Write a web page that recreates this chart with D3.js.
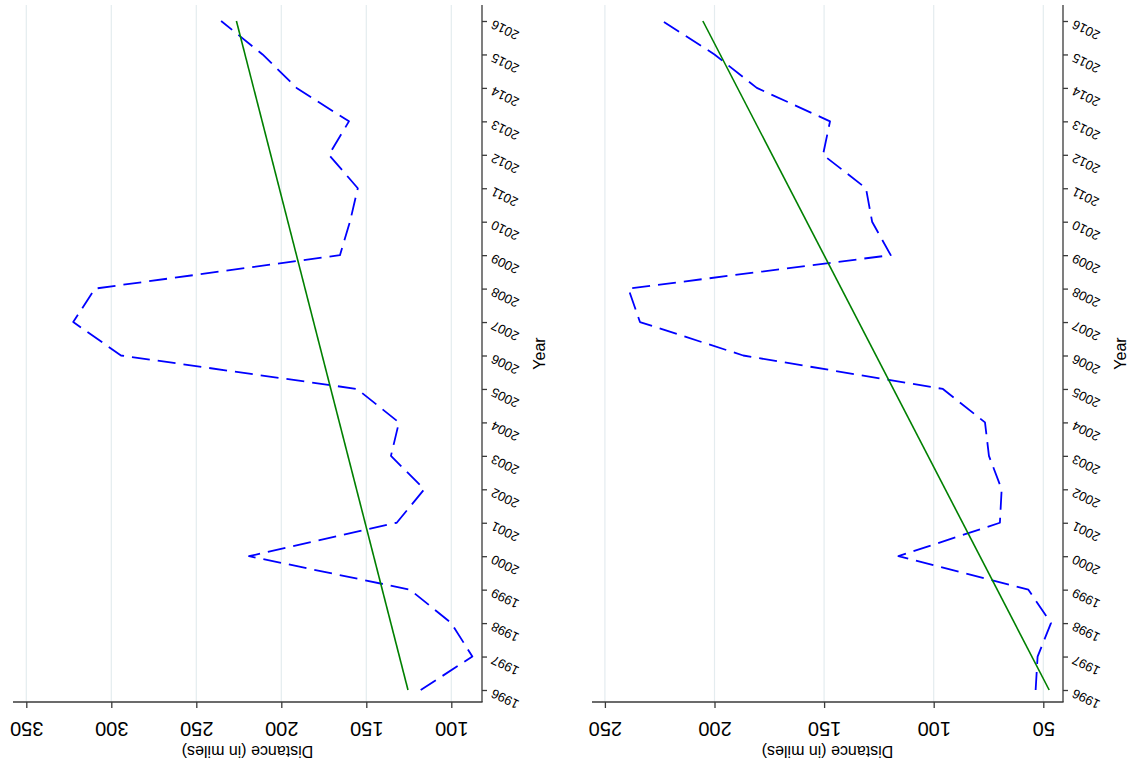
<!DOCTYPE html>
<html>
<head>
<meta charset="utf-8">
<script src="https://cdn.jsdelivr.net/npm/d3@7"></script>
<style>
  html, body { margin: 0; padding: 0; background: #fff; }
  svg { display: block; font-family: "Liberation Sans", Arial, Helvetica, sans-serif; }
</style>
</head>
<body>
<svg id="chart" width="1133" height="764"></svg>
<script>
// Yearly average distance (in miles), two series
const years = [1996, 1997, 1998, 1999, 2000, 2001, 2002, 2003, 2004, 2005, 2006,
               2007, 2008, 2009, 2010, 2011, 2012, 2013, 2014, 2015, 2016];
const distanceA = [118, 87.6, 100, 124.3, 219, 132.1, 115.9, 135.5, 130.8, 155.5, 294.3,
                   322.4, 309.6, 165.5, 159.6, 155, 172, 160.2, 191, 211, 235.4];
const distanceB = [53.5, 52.6, 46.5, 56.8, 116.1, 69.8, 69, 74.8, 76.6, 95.8, 186.9,
                   234, 239.3, 119.6, 128.1, 130.9, 150.5, 147.3, 180.7, 200, 223.8];
const distanceTicksA = [100, 150, 200, 250, 300, 350];
const distanceTicksB = [50, 100, 150, 200, 250];
const yearTicks = years;
const distanceTitle = "Distance (in miles)";
const yearTitle = "Year";

const svg = d3.select("#chart");

// Page is laid out sideways: years run bottom-to-top along the right edge,
// distance runs right-to-left along the bottom edge.
const plotTop = 5, plotBottom = 702;
const yScale = d3.scaleLinear().domain([1996, 2016]).range([690, 21]);

const panels = [
  { values: distanceA, ticks: distanceTicksA, domain: [100, 350], range: [451.3, 26.3], left: 13, right: 482 },
  { values: distanceB, ticks: distanceTicksB, domain: [50, 250], range: [1043.3, 604.9], left: 592, right: 1063 }
];

// ordinary least-squares fit of distance on year
function linearFit(xs, ys) {
  const mx = d3.mean(xs), my = d3.mean(ys);
  const sxy = d3.sum(xs, (x, i) => (x - mx) * (ys[i] - my));
  const sxx = d3.sum(xs, x => (x - mx) * (x - mx));
  const b = sxy / sxx;
  return x => my + b * (x - mx);
}

const axisColor = "#3a3a3a";

panels.forEach(p => {
  const x = d3.scaleLinear().domain(p.domain).range(p.range);
  const g = svg.append("g");
  const pts = years.map((yr, i) => ({ year: yr, v: p.values[i] }));

  // grid
  g.append("g").selectAll("line").data(p.ticks).join("line")
    .attr("x1", d => x(d)).attr("x2", d => x(d))
    .attr("y1", plotTop).attr("y2", plotBottom)
    .attr("stroke", "#e4ecef").attr("stroke-width", 1.2);

  // observed series
  g.append("path").datum(pts)
    .attr("fill", "none")
    .attr("stroke", "#0000ff")
    .attr("stroke-width", 1.8)
    .attr("stroke-linejoin", "round")
    .attr("stroke-dasharray", "18,8")
    .attr("d", d3.line().x(d => x(d.v)).y(d => yScale(d.year)));

  // fitted line
  const fit = linearFit(years, p.values);
  const ends = [years[0], years[years.length - 1]].map(yr => ({ year: yr, v: fit(yr) }));
  g.append("path").datum(ends)
    .attr("fill", "none")
    .attr("stroke", "#008000")
    .attr("stroke-width", 1.6)
    .attr("d", d3.line().x(d => x(d.v)).y(d => yScale(d.year)));

  // distance axis (bottom)
  const xa = g.append("g")
    .attr("transform", `translate(0,${plotBottom})`)
    .call(d3.axisBottom(x).tickValues(p.ticks).tickSize(6).tickFormat(d3.format("d")));
  xa.select(".domain").remove();
  xa.selectAll(".tick line").attr("stroke", axisColor).attr("stroke-width", 1.3);
  xa.selectAll(".tick text")
    .attr("y", null).attr("dy", null)
    .attr("fill", "#000")
    .attr("font-size", 20)
    .attr("font-family", "Liberation Sans, Arial, sans-serif")
    .attr("text-anchor", "middle")
    .attr("dominant-baseline", "central")
    .attr("transform", "translate(0,27) rotate(180)");

  // year axis (right)
  const ya = g.append("g")
    .attr("transform", `translate(${p.right},0)`)
    .call(d3.axisRight(yScale).tickValues(yearTicks).tickSize(5).tickFormat(d3.format("d")));
  ya.select(".domain").remove();
  ya.selectAll(".tick line").attr("stroke", axisColor).attr("stroke-width", 1.3);
  ya.selectAll(".tick text")
    .attr("x", null).attr("dy", null)
    .attr("fill", "#000")
    .attr("font-size", 13)
    .attr("font-family", "Liberation Sans, Arial, sans-serif")
    .attr("text-anchor", "end")
    .attr("dominant-baseline", "central")
    .attr("transform", "translate(10,2) rotate(206)");

  // axis lines spanning the plot region
  g.append("line")
    .attr("x1", p.left).attr("x2", p.right + 0.6)
    .attr("y1", plotBottom).attr("y2", plotBottom)
    .attr("stroke", axisColor).attr("stroke-width", 1.3);
  g.append("line")
    .attr("x1", p.right).attr("x2", p.right)
    .attr("y1", plotTop).attr("y2", plotBottom)
    .attr("stroke", axisColor).attr("stroke-width", 1.3);

  // axis titles
  g.append("text")
    .attr("transform", `translate(${(p.left + p.right) / 2},751) rotate(180)`)
    .attr("text-anchor", "middle").attr("dominant-baseline", "central")
    .attr("font-size", 16).attr("fill", "#000")
    .text(distanceTitle);
  g.append("text")
    .attr("transform", `translate(${p.right + 57},${(plotTop + plotBottom) / 2}) rotate(-90)`)
    .attr("text-anchor", "middle").attr("dominant-baseline", "central")
    .attr("font-size", 16).attr("fill", "#000")
    .text(yearTitle);
});
</script>
</body>
</html>
